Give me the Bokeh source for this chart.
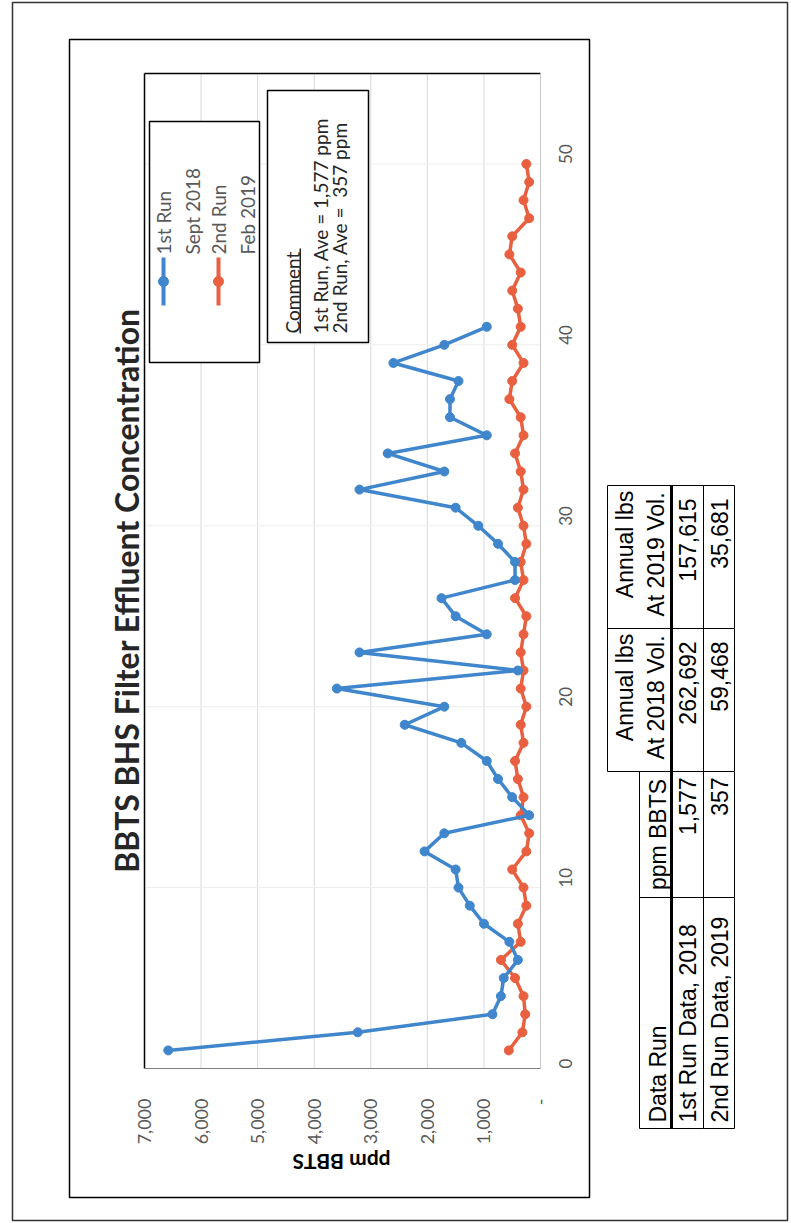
import math
from bokeh.plotting import figure
from bokeh.models import (Range1d, FixedTicker, NumeralTickFormatter, LinearAxis,
                          Label, BoxAnnotation)
from bokeh.embed import file_html
from bokeh.resources import INLINE

# ---------------- data ----------------
run1_index = list(range(1, 42))
run1_ppm = [6580, 3230, 850, 700, 650, 400, 550, 1000, 1250, 1450, 1500, 2050, 1700, 200,
            500, 750, 950, 1400, 2400, 1700, 3600, 400, 3200, 950, 1500, 1750, 450, 450,
            750, 1100, 1500, 3200, 1700, 2700, 950, 1600, 1600, 1450, 2600, 1700, 950]
run2_index = list(range(1, 51))
run2_ppm = [560, 320, 270, 300, 450, 700, 350, 400, 250, 300, 500, 250, 200, 350, 300,
            400, 450, 300, 350, 250, 350, 300, 350, 300, 250, 450, 300, 350, 250, 300,
            400, 300, 350, 450, 300, 350, 550, 500, 300, 500, 350, 400, 500, 350, 550,
            500, 200, 300, 200, 250]
value_ticks = [0, 1000, 2000, 3000, 4000, 5000, 6000, 7000]
index_ticks = [0, 10, 20, 30, 40, 50]
title_text = "BBTS BHS Filter Effluent Concentration"
axis_title = "ppm BBTS"
legend_entries = [("1st Run", "Sept 2018"), ("2nd Run", "Feb 2019")]
comment_title = "Comment"
comment_lines = ["1st Run, Ave = 1,577 ppm", "2nd Run, Ave =\u00a0\u00a0357 ppm"]
table_header = ["Data Run", "ppm BBTS", ("Annual lbs", "At 2018 Vol."), ("Annual lbs", "At 2019 Vol.")]
table_rows = [["1st Run Data, 2018", "1,577", "262,692", "157,615"],
              ["2nd Run Data, 2019", "357", "59,468", "35,681"]]

BLUE = "#3f86cc"
RED = "#e8603f"
W, H = 791, 1223
FL, FR, FT, FB = 144, 540, 73, 1068   # plot area in page pixels
XMAX, YMAX = 7000, 55

# the figure frame covers the whole page; the ranges are chosen so that the
# value axis runs 7000 -> 0 across the plot area and the index axis 0 -> 55
kx = (FR - FL) / XMAX
ky = (FB - FT) / YMAX
p = figure(width=W, height=H, output_backend="svg", toolbar_location=None,
           x_range=Range1d(XMAX + FL / kx, -(W - FR) / kx),
           y_range=Range1d(-(H - FB) / ky, YMAX + FT / ky),
           x_axis_location=None, y_axis_location=None, min_border=0)
p.outline_line_color = None
p.background_fill_color = "white"
p.border_fill_color = "white"
p.xgrid.grid_line_color = None
p.ygrid.grid_line_color = None

# ---------------- axes (pinned to the plot area) ----------------
xax = LinearAxis(ticker=FixedTicker(ticks=value_ticks),
                 formatter=NumeralTickFormatter(format="0,0"),
                 fixed_location=0, bounds=(0, XMAX))
xax.major_label_overrides = {0: "-"}
xax.major_label_orientation = math.pi / 2
xax.major_tick_line_color = None
xax.minor_tick_line_color = None
xax.axis_line_color = "#808080"
xax.major_label_text_font = "Lato"
xax.major_label_text_font_size = "18px"
xax.major_label_text_color = "#595959"
xax.major_label_standoff = 24
p.add_layout(xax, "below")

yax = LinearAxis(ticker=FixedTicker(ticks=index_ticks), fixed_location=0, bounds=(0, YMAX))
yax.major_label_orientation = math.pi / 2
yax.major_tick_line_color = None
yax.minor_tick_line_color = None
yax.axis_line_color = "#c8c8c8"
yax.major_label_text_font = "Lato"
yax.major_label_text_font_size = "17px"
yax.major_label_text_color = "#595959"
yax.major_label_standoff = 19
p.add_layout(yax, "right")

# gridlines and plot-area border
vt = value_ticks[1:-1]
p.segment(x0=vt, y0=[0] * len(vt), x1=vt, y1=[YMAX] * len(vt),
          line_color="#d9d9d9", line_width=1)
it = index_ticks[1:]
p.segment(x0=[XMAX] * len(it), y0=it, x1=[0] * len(it), y1=it,
          line_color="#ededed", line_width=1)
p.segment(x0=[XMAX, XMAX], y0=[0, YMAX], x1=[XMAX, 0], y1=[YMAX, YMAX],
          line_color="black", line_width=1.5)

# ---------------- data series ----------------
p.line(run2_ppm, run2_index, line_color=RED, line_width=3.5)
p.scatter(run2_ppm, run2_index, size=9, fill_color=RED, line_color=RED)
p.line(run1_ppm, run1_index, line_color=BLUE, line_width=3.5)
p.scatter(run1_ppm, run1_index, size=9, fill_color=BLUE, line_color=BLUE)


# ---------------- helpers (page pixel coords, y down) ----------------
def vx(cx):
    return XMAX - (cx - FL) / kx


def iy(cy):
    return (FB - cy) / ky


def label(cx, cy, text, size, color="black", font="Lato", bold=False,
          align="left", baseline="middle", angle=math.pi / 2):
    p.add_layout(Label(x=cx, y=H - cy, x_units="screen", y_units="screen",
                       text=text, angle=angle, text_font=font,
                       text_font_size=f"{size}px", text_color=color,
                       text_align=align, text_baseline=baseline,
                       text_font_style="bold" if bold else "normal"))


def box(x0, y0, x1, y1, color="black", width=1.0, fill=None):
    p.add_layout(BoxAnnotation(left=x0, right=x1, top=H - y0, bottom=H - y1,
                               left_units="screen", right_units="screen",
                               top_units="screen", bottom_units="screen",
                               fill_color=fill if fill else "white",
                               fill_alpha=1 if fill else 0,
                               line_color=color if color else "white",
                               line_alpha=1 if color else 0, line_width=width))


# page and chart frames
box(12, 2, 787, 1220, color="#333333", width=1.5)
box(69, 39, 589, 1197, color="black", width=1.5)

# title and value-axis title (the latter appears upside-down in the scan)
label(126, 590, title_text, 32, color="#262626", bold=True, align="center")
label(341, 1162, axis_title, 21, color="black", bold=True, align="center", angle=math.pi)

# legend
box(149, 121, 259, 362, color="black", width=1.5, fill="white")
for (name, when), col, lx in zip(legend_entries, [BLUE, RED], [163, 218]):
    box(lx - 2, 257, lx + 2, 305, color=None, fill=col)
    p.scatter([vx(lx)], [iy(281)], size=10, fill_color=col, line_color=col, level="overlay")
    label(lx, 254, name, 19, color="#595959")
    label(lx + 29, 254, when, 19, color="#595959")

# comment box
box(267, 90, 368, 342, color="black", width=1.5, fill="white")
label(292, 333, comment_title, 19, color="#262626")
box(299, 248, 300.5, 333, color=None, fill="#262626")
label(320, 333, comment_lines[0], 19, color="#262626")
label(339, 333, comment_lines[1], 19, color="#262626")

# table
TF = "Liberation Sans"
TS = 23
box(607, 485, 671, 628)
box(607, 628, 671, 771)
box(639, 771, 671, 897)
box(639, 897, 671, 1128)
for x0, x1 in [(671, 703), (703, 734)]:
    for y0, y1 in [(485, 628), (628, 771), (771, 897), (897, 1128)]:
        box(x0, y0, x1, y1)
box(670, 485, 672, 1128)
label(657, 1122, table_header[0], TS, font=TF)
label(657, 834, table_header[1], TS, font=TF, align="center")
label(624, 687, table_header[2][0], TS, font=TF, align="center")
label(655, 697, table_header[2][1], TS, font=TF, align="center")
label(624, 544, table_header[3][0], TS, font=TF, align="center")
label(655, 554, table_header[3][1], TS, font=TF, align="center")
for row, cx in zip(table_rows, [687, 719]):
    label(cx, 1122, row[0], TS, font=TF)
    label(cx, 777, row[1], TS, font=TF, align="right")
    label(cx, 641, row[2], TS, font=TF, align="right")
    label(cx, 498, row[3], TS, font=TF, align="right")

open("out.html", "w").write(file_html(p, INLINE))
